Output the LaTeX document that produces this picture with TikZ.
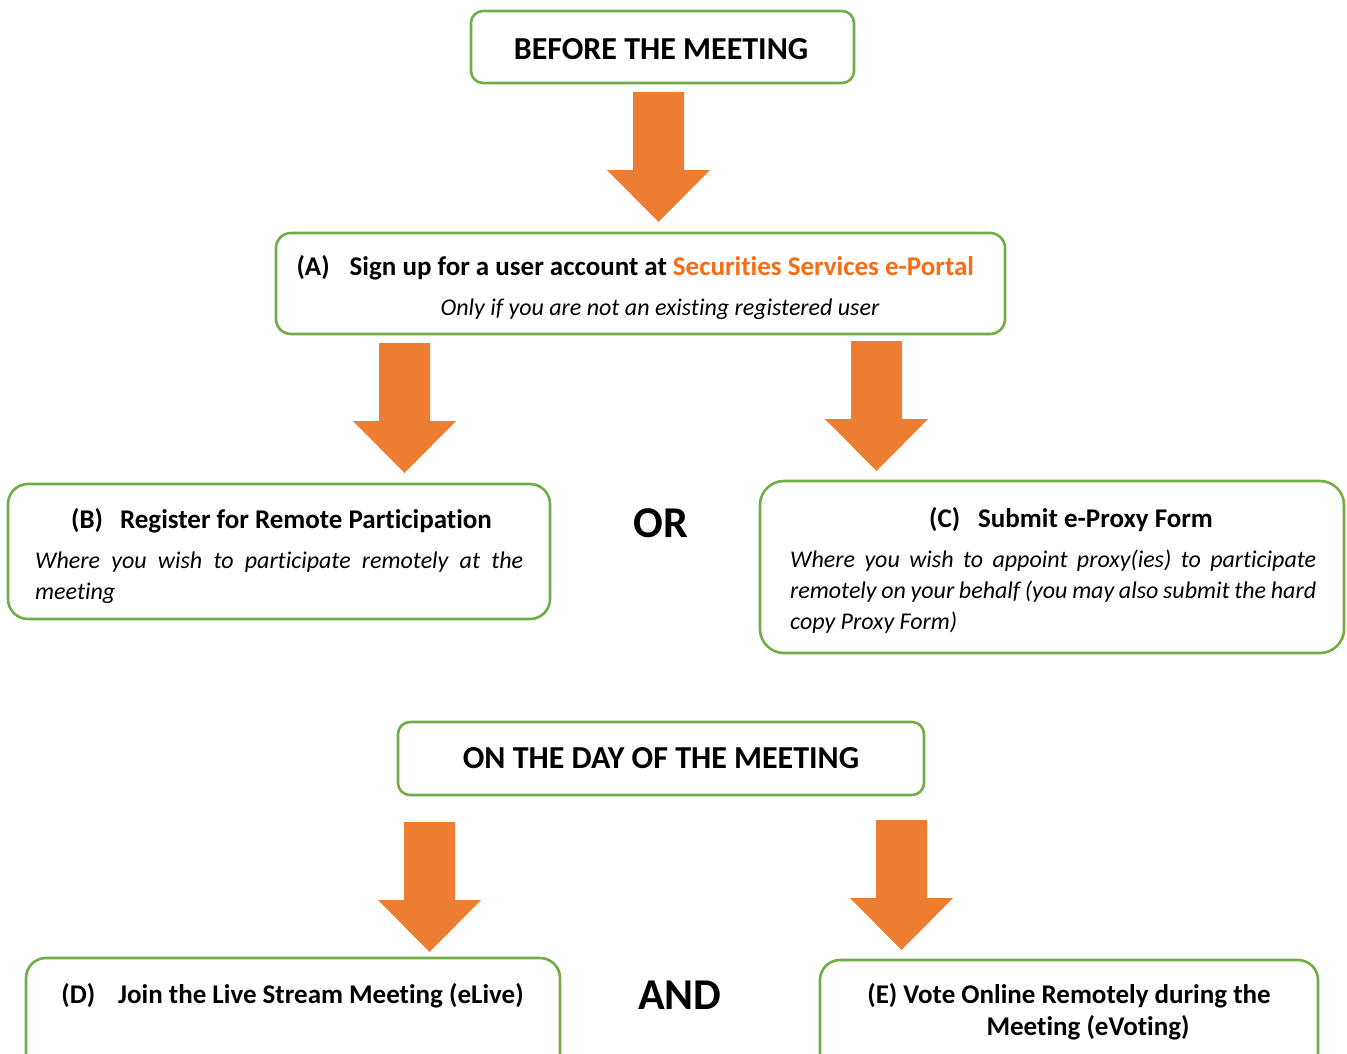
\documentclass[tikz,border=0pt]{standalone}
\usepackage{fontspec}
\setmainfont{Carlito}[Ligatures=NoCommon]
\usepackage{xcolor}
\definecolor{boxgreen}{HTML}{70AD47}
\definecolor{arroworange}{HTML}{ED7D31}
\definecolor{linkorange}{RGB}{250,108,18}

\begin{document}
\begin{tikzpicture}[x=1pt,y=-1pt]
    % Define styles
    \tikzset{
        stage/.style={rectangle, draw=boxgreen, line width=2.6pt, inner sep=0pt},
        heading/.style={font=\fontsize{32}{37}\selectfont\bfseries, anchor=base},
        title/.style={font=\fontsize{27}{32}\selectfont\bfseries, anchor=base},
        note/.style={font=\fontsize{24}{31}\selectfont\itshape, anchor=base},
        joiner/.style={font=\fontsize{44}{50}\selectfont\bfseries, anchor=base},
        blockarrow/.pic={\fill[arroworange] (-25.5,0) -- (25.5,0) -- (25.5,78) -- (51.5,78) -- (0,130) -- (-51.5,78) -- (-25.5,78) -- cycle;}
    }
    \clip (0,0) rectangle (1347,1053);
    \useasboundingbox (0,0) rectangle (1347,1053);

    % Boxes
    \node[stage, rounded corners=12pt, minimum width=383, minimum height=72] (before) at (662.5,47) {};
    \node[stage, rounded corners=15pt, minimum width=729, minimum height=101] (signup) at (640.5,283.5) {};
    \node[stage, rounded corners=20pt, minimum width=542, minimum height=135] (register) at (279,551.5) {};
    \node[stage, rounded corners=24pt, minimum width=584, minimum height=172] (proxy) at (1052,567) {};
    \node[stage, rounded corners=12pt, minimum width=526, minimum height=73] (dayof) at (661,758.5) {};
    \node[stage, rounded corners=20pt, minimum width=534, minimum height=150] (elive) at (293,1033) {};
    \node[stage, rounded corners=20pt, minimum width=498, minimum height=150] (evoting) at (1069,1035) {};

    % Texts
    \node[heading] (before_text) at (661,59) {BEFORE THE MEETING};
    \node[title, anchor=base west] (signup_text) at (293,275) {(A)\hspace{20pt}Sign up for a user account at \textcolor{linkorange}{Securities Services e-Portal}};
    \node[note] (signup_note) at (660,315) {Only if you are not an existing registered user};
    \node[title] (register_text) at (281.5,528) {(B)\hspace{17pt}Register for Remote Participation};
    \node[note, anchor=base west, text width=488, align=justify, inner sep=0pt] (register_note) at (35,568) {Where you wish to participate remotely at the meeting};
    \node[joiner] (or_text) at (661,537) {OR};
    \node[title] (proxy_text) at (1071,527) {(C)\hspace{18pt}Submit e-Proxy Form};
    \node[note, anchor=base west, text width=526, align=justify, inner sep=0pt] (proxy_note) at (790,567) {Where you wish to appoint proxy(ies) to participate\linebreak remotely on your behalf (you may also submit the hard\linebreak copy Proxy Form)};
    \node[heading] (dayof_text) at (661,768) {ON THE DAY OF THE MEETING};
    \node[title] (elive_text) at (292.5,1003) {(D)\hspace{23pt}Join the Live Stream Meeting (eLive)};
    \node[joiner] (and_text) at (680,1009) {AND};
    \node[title] (evoting_text) at (1069,1003) {(E) Vote Online Remotely during the};
    \node[title] (evoting_text2) at (1088,1035) {Meeting (eVoting)};

    % Arrows
    \pic at (658.5,92) {blockarrow};
    \pic at (404.5,343) {blockarrow};
    \pic at (876.5,341) {blockarrow};
    \pic at (429.5,822) {blockarrow};
    \pic at (901.5,820) {blockarrow};
\end{tikzpicture}
\end{document}
